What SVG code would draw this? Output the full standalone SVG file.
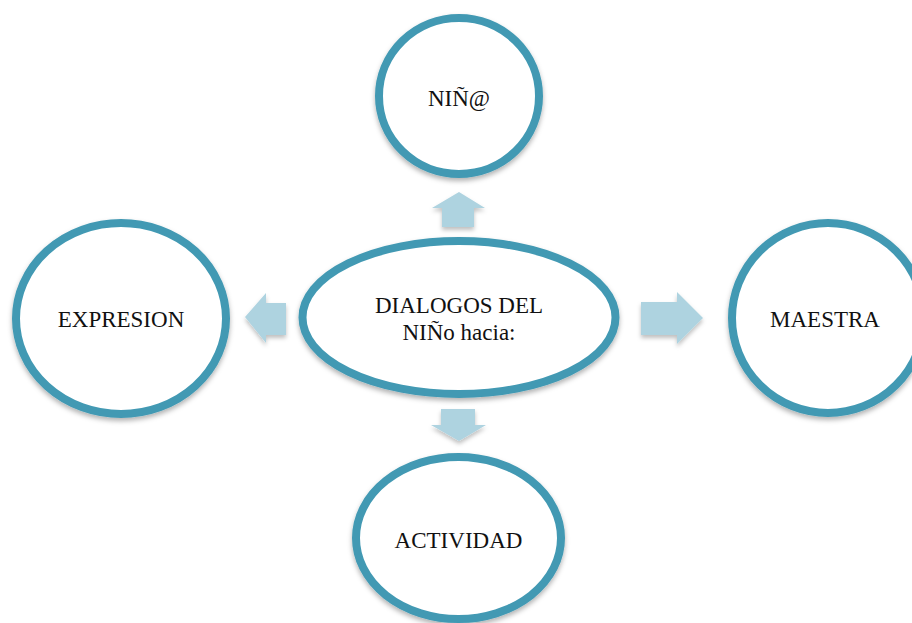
<svg xmlns="http://www.w3.org/2000/svg" width="912" height="623" viewBox="0 0 912 623">
  <style>
    .node { fill: #ffffff; stroke: #4299b3; stroke-width: 8; filter: url(#sh); }
    .arrow { fill: #aed3e0; filter: url(#ash); }
    .lbl { font-family: "Liberation Serif", "DejaVu Serif", serif; font-size: 23px; fill: #111111; text-anchor: middle; }
  </style>
  <defs>
    <filter id="sh" x="-10%" y="-10%" width="120%" height="125%">
      <feDropShadow dx="0" dy="3" stdDeviation="2.5" flood-color="#000000" flood-opacity="0.3"/>
    </filter>
    <filter id="ash" x="-20%" y="-20%" width="140%" height="150%">
      <feDropShadow dx="0" dy="3" stdDeviation="2" flood-color="#000000" flood-opacity="0.25"/>
    </filter>
  </defs>
  <rect width="912" height="623" fill="#ffffff"/>
  <g id="connectors">
    <polygon class="arrow" points="459,192 485,208 474,208 474,227 442,227 442,208 432,208"/>
    <polygon class="arrow" points="441,409 475,409 475,425 486,425 459,441 431,425 441,425"/>
    <polygon class="arrow" points="245,317 266,293 266,303 286,303 286,335 266,335 266,343"/>
    <polygon class="arrow" points="641,302 677,302 677,292 703,318 677,344 677,335 641,335"/>
  </g>
  <g id="node-nino">
    <ellipse class="node" cx="459" cy="96" rx="80" ry="78"/>
    <text class="lbl" x="459" y="106">NIÑ@</text>
  </g>
  <g id="node-center">
    <ellipse class="node" cx="459" cy="317.5" rx="156.5" ry="76.5"/>
    <text class="lbl" x="459" y="313">DIALOGOS DEL</text>
    <text class="lbl" x="459" y="340">NIÑo hacia:</text>
  </g>
  <g id="node-expresion">
    <ellipse class="node" cx="121" cy="318.5" rx="105" ry="95.5"/>
    <text class="lbl" x="121" y="327">EXPRESION</text>
  </g>
  <g id="node-maestra">
    <ellipse class="node" cx="828" cy="318" rx="96" ry="95"/>
    <text class="lbl" x="825" y="327">MAESTRA</text>
  </g>
  <g id="node-actividad">
    <ellipse class="node" cx="458.5" cy="538" rx="102.5" ry="81"/>
    <text class="lbl" x="458.5" y="548">ACTIVIDAD</text>
  </g>
</svg>
